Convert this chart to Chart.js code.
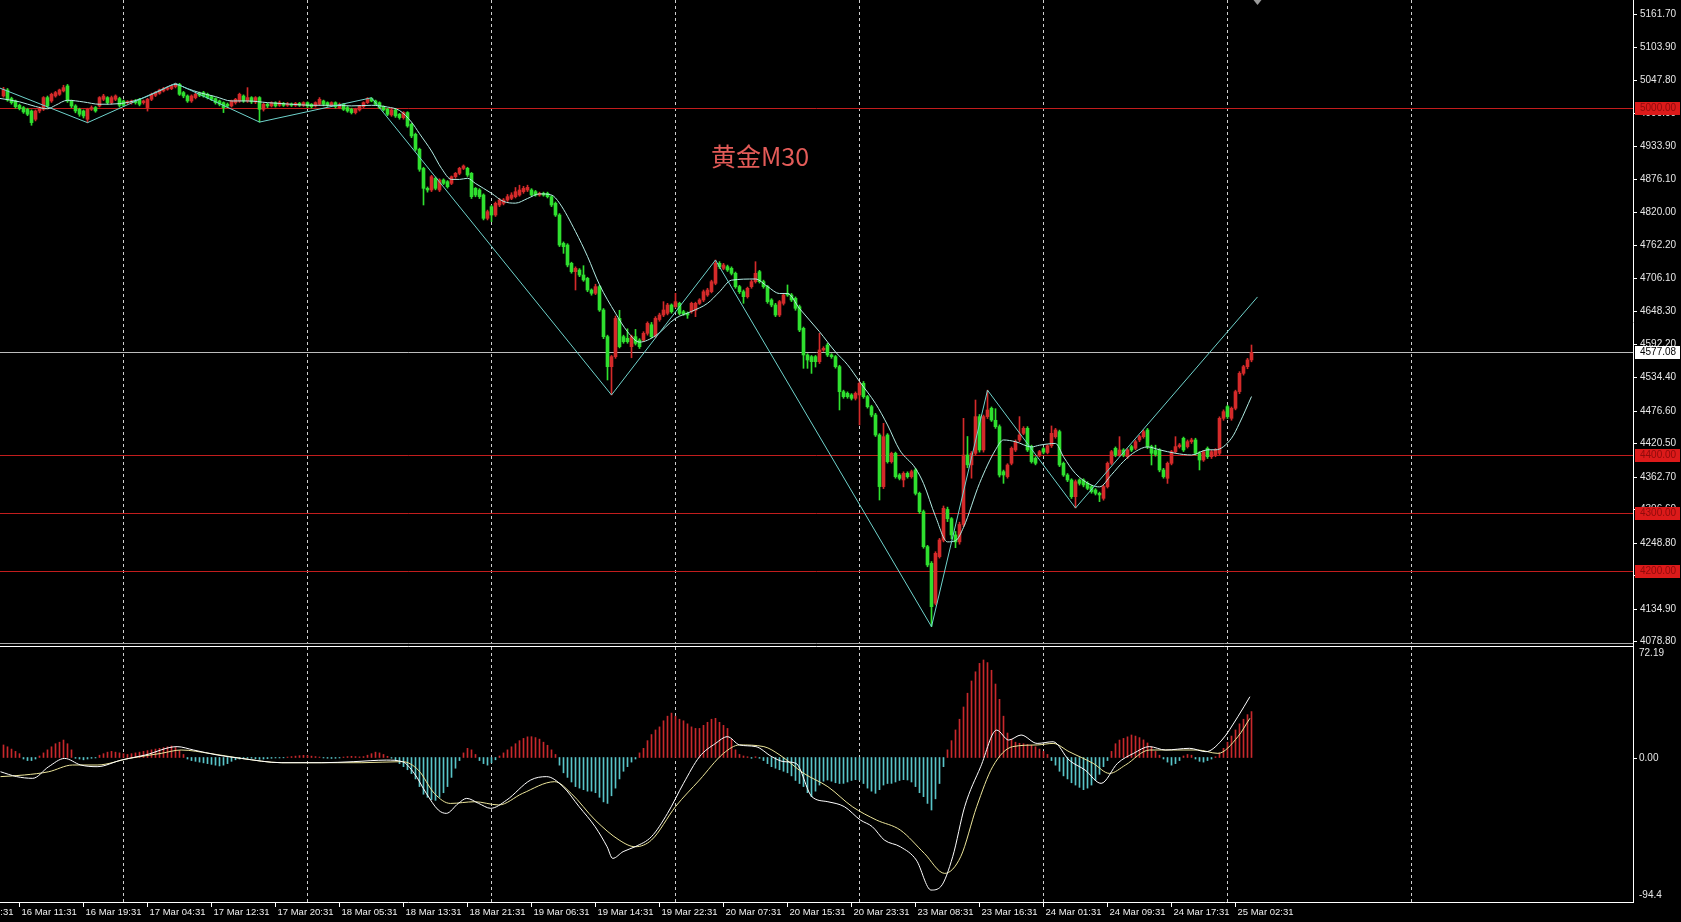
<!DOCTYPE html>
<html><head><meta charset="utf-8">
<script src="https://cdn.jsdelivr.net/npm/chart.js@4.4.1/dist/chart.umd.min.js"></script>
<style>
html,body{margin:0;padding:0;background:#000;overflow:hidden;width:1681px;height:922px;}
canvas{position:absolute;left:0;}
#pc{top:0}
#mc{top:645px}
</style></head><body>
<canvas id="pc" width="1681" height="645"></canvas>
<canvas id="mc" width="1681" height="277"></canvas>
<script>
// ---------- DATA (bar numbers: 0 = 16 Mar 11:31, M30 bars) ----------
const firstBar = -4;
const opens = [5020.1,5030.5,5015.6,5011.5,5004,5000,4997.1,4994.2,4979.8,4994.2,4997.1,5017.3,5011.5,5020.1,
5023,5028.8,5037.4,5011.5,5002.9,4997.1,4994.2,4979.8,4997.1,5000,
5002.9,5014.4,5017.3,5008.6,5014.4,5015.6,5011.5,5008.6,5008.6,5011.5,
5014.4,5008.6,5000,5014.4,5021.3,5024.8,5028.8,5031.7,5032.8,5036.3,
5040.3,5025.9,5020.1,5011.5,5017.3,5024.8,5025.9,5023,5019,5015.6,
5011.5,5008.6,5005.8,5002.9,5008.6,5011.5,5020.1,5011.5,5017.3,5009.8,
5017.3,4997.1,5005.8,5002.9,5008.6,5004,5007.5,5004,5006.3,5004,
5007.5,5004,5008.6,5005.8,5002.9,5005.8,5011.5,5008.6,5004,5008.6,
5000,5005.8,5000,4997.1,4991.4,4996,5001.7,5008.6,5015.6,5011.5,
5008.6,5001.7,4997.1,4987.4,4996,4988.5,4982.7,4991.4,4971.2,4953.9,
4928,4895,4860.6,4857.7,4877.9,4857.7,4875,4872.1,4869.2,4880.7,
4886.5,4895.1,4895.1,4886.5,4860.6,4857.7,4849.1,4808.8,4828.9,4814.5,
4831.8,4834.7,4840.4,4843.3,4846.2,4849.1,4854.8,4857.7,4857.7,4854.8,
4849.1,4851.9,4851.9,4846.2,4834.7,4814.5,4765.6,4762.7,4731.1,4716.7,
4719.5,4710.9,4705.2,4685,4679.3,4690.8,4650.5,4604.4,4552.6,4569.9,
4636,4604.4,4601.5,4587.1,4604.4,4598.6,4598.6,4610.2,4625,4606,
4634,4641.8,4644.7,4659.1,4656.2,4662,4647.6,4644.7,4647.6,4650,
4662,4667.8,4676.4,4682.1,4696.5,4731.1,4722.4,4725.3,4722.4,4713.8,
4690.8,4682.1,4673.5,4690.8,4699.4,4716.7,4699.4,4690.8,4667.8,4659.1,
4641.8,4662,4679.3,4676.4,4670.6,4656.2,4618.8,4572.8,4569.9,4569.9,
4561.2,4581.4,4590,4572.8,4569.9,4552.6,4509.4,4506.6,4503.7,4497.9,
4503.7,4523.8,4500.8,4483.5,4469.1,4434.6,4345.4,4434.6,4388.5,4402.9,
4365.5,4356.9,4368.4,4362.6,4374.1,4333.8,4302.2,4241.7,4213,4143.9,
4224.5,4253,4306,4290,4262,4250,4280,4400,4383,4403,
4466.3,4408.7,4466.3,4480.7,4460,4449,4371.3,4362.7,4385.7,4408.7,
4426,4437.5,4446.1,4414.5,4394.3,4400.1,4411,4404.4,4416,4431.7,
4440.4,4385.7,4365.5,4356.9,4328.1,4356.9,4356.9,4351.1,4345.4,4339.6,
4333.9,4325.2,4345.4,4385.7,4411.6,4400.1,4408.7,4397.2,4414.5,4411.6,
4426,4431.7,4443.3,4414.5,4408,4408.7,4374.2,4359.8,4385.7,4405.8,
4414.5,4428.9,4414.5,4423.1,4426,4403,4391.4,4411.6,4397.2,4400.1,
4403,4463.4,4483.6,4463.4,4480.7,4509.5,4541.1,4552.6,4564.2];
const highs = [5035,5033,5018,5013,5006,5002,4999,4996,4996,5001,5019,5020,5025,5028,
5032,5038.6,5040,5013,5005,4999,4996,4999,5003,5002,
5019,5023,5019,5020,5022,5018,5013,5012,5013,5014,
5016,5013,5016,5025,5028,5032,5035,5036,5039,5042,
5042,5028,5022,5022,5025,5027,5028,5025,5021,5017,
5013,5010,5008,5013,5016,5025,5022,5034.5,5019,5019,
5019,5008,5008,5010,5010,5011.5,5009,5009,5008,5009,
5009,5010,5010,5007,5010,5017.3,5013,5010,5010,5010,
5008,5007,5002,4999,4999,5004,5010,5017.3,5017.3,5013,
5010,5003,4999,4998,4998,4990,4993,4993,4973,4956,
4930,4897,4863,4883,4880,4877,4877,4874,4882,4888,
4897,4901,4897,4888,4862,4860,4851,4823,4831,4837,
4843,4843,4850,4853,4862,4866,4864,4866,4860,4857,
4854,4854,4854,4848,4837,4817,4768,4765,4733,4725,
4722,4727,4707,4687,4695,4693,4653,4607,4572,4640,
4650,4607,4618,4607,4617,4601,4613,4630,4629,4639,
4645,4664.9,4662,4661,4679.3,4664,4650,4647,4664,4664,
4670,4685,4688,4702,4736.8,4734,4731,4728,4725,4716,
4693,4685,4690,4702,4733.9,4719,4702,4693,4670,4662,
4667,4679,4693.7,4679,4673,4659,4621,4575,4572,4572,
4610.2,4587,4593,4575,4572,4555,4512,4509,4506,4509,
4527,4527,4503,4486,4472,4437,4454.7,4437,4405,4405,
4368,4371,4371,4374,4377,4336,4305,4244,4216,4233,
4256,4312,4310,4292,4268,4284,4463.4,4432,4406,4495,
4470,4469,4512,4483,4480,4452,4374,4385,4414,4426,
4466.3,4449,4449,4417,4397,4408,4413,4418,4450.2,4446,
4443,4388,4368,4359,4357,4359,4359,4354,4348,4342,
4336,4348,4388,4408,4414,4431.7,4411,4411,4417,4426,
4434,4443,4446,4417,4417,4411,4377,4388,4408,4431.7,
4420,4431,4426,4429,4429,4406,4408,4414,4408,4411,
4466,4478,4486,4483,4512,4544,4555,4567,4590];
const lows = [5018,5011,5006,4999,4996,4990,4986,4969.5,4977,4991,4995,5000,5009,5018,
5021,5027,5009,5000,4991,4985,4982,4974,4995,4992,
5001,5012,5006,5006,5012,5001,5002,5006,5006,5006,
5003,5006,4994,5012,5019,5023,5027,5030,5031,5034,
5021,5017,5009,5009,5015,5019,5018,5015,5012,5006,
5003,4991.4,5000,5001,5006,5009,5009,5009,5007,5007,
4975,4994,5000,5001,5001,5002,5002,5002,5002,5002,
5002,5002,5000,4999,5001,5004,5003,5002,5002,4999,
4998,4995,4992,4989,4989,4994,5000,5007,5010,5004,
4998,4994,4986,4985,4983,4980,4980,4966,4948,4925,
4890,4831.8,4854,4855,4858,4855,4867,4861,4867,4878,
4884,4893,4881,4843,4846,4843,4806,4806,4803,4812,
4829,4832,4838,4841,4844,4847,4852,4855,4847,4847,
4847,4847,4844,4829,4812,4760,4748.3,4725,4714,4685,
4708,4700,4682,4676,4677,4648,4601,4529.6,4503.7,4567,
4585,4593,4593,4568,4590,4584,4596,4607,4602,4603,
4631,4639,4642,4645,4654,4642,4641,4636.1,4645,4639,
4660,4665,4674,4680,4694,4722,4720,4717,4711,4688,
4679,4662,4671,4688,4697,4697,4688,4662,4656,4639,
4639,4659,4674,4665,4650,4613,4549.7,4549.7,4541,4552,
4558,4579,4570,4567,4550,4477.8,4498,4498,4495,4495,
4451.9,4498,4481,4466,4432,4322.3,4342,4386,4386,4360,
4357,4345,4360,4360,4331,4299,4239,4207,4103.6,4141,
4222,4250,4285,4255,4240,4246,4276,4378,4360,4400,
4405,4405,4463,4458,4446,4362,4351.1,4360,4383,4406,
4423,4435,4406,4386,4383,4397,4402,4402,4413,4429,
4380,4363,4354,4325,4308.5,4348,4345,4340,4334,4331,
4319.5,4322,4343,4383,4397,4397,4397,4394,4406,4409,
4423,4429,4411,4382.8,4398,4371,4360,4351,4383,4403,
4412,4406,4412,4420,4400,4374.2,4389,4394,4394,4397,
4400,4460,4463,4460,4478,4506,4538,4549,4561];
const closes = [5031.7,5013.2,5008.6,5001.7,4998.3,4992.5,4988.5,4974.1,4994.2,4998.3,5017.3,5002.9,5023,5025.9,
5030.5,5034.5,5011.5,5002.9,4994.2,4988.5,4985.6,4997.1,5000,4994.2,
5017.3,5020.1,5008.6,5017.3,5020.1,5004,5004,5009.8,5011.5,5008.6,
5005.8,5011.5,5014.4,5023,5025.9,5030.5,5032.8,5034.5,5037.4,5040,
5023,5020.1,5011.5,5020.1,5023,5021.3,5020.1,5017.3,5014.4,5008.6,
5005.8,5000,5002.9,5011.5,5014.4,5023,5011.5,5017.3,5009.8,5017.3,
4997.1,5005.8,5002.9,5008.6,5002.9,5008.6,5004,5006.3,5004,5007.5,
5004,5008.6,5002.9,5001.7,5008.6,5014.4,5005.8,5004,5008.6,5001.7,
5005.8,4997.1,4994.2,4991.4,4997.1,5002.9,5008.6,5015.6,5011.5,5005.8,
5000,4996,4988.5,4996,4985.6,4982.7,4991.4,4968.3,4951.1,4928,
4893.5,4860.6,4857.7,4880.7,4860.6,4875,4869.2,4863.5,4880.7,4886.5,
4895.1,4899.2,4883.6,4846.2,4849.1,4846.2,4808.8,4820.3,4814.5,4834.7,
4840.4,4840.4,4846.2,4849.1,4854.8,4857.7,4860.6,4862.3,4849.1,4849.1,
4851.9,4849.1,4846.2,4831.8,4814.5,4762.7,4759.8,4728.2,4716.7,4722.4,
4710.9,4702.3,4685,4679.3,4690.8,4650.5,4604.4,4552.6,4569.9,4636,
4587.1,4595.8,4595.8,4604.4,4592.9,4587.1,4610.2,4627.4,4604.4,4636.1,
4641.8,4650.5,4659.1,4647.6,4664.9,4644.7,4643.6,4641.8,4662,4662,
4667.8,4682.1,4685,4699.4,4731.1,4725.3,4728.2,4719.6,4713.8,4690.8,
4682.1,4673.5,4687.9,4699.4,4713.8,4699.4,4690.8,4664.9,4659.1,4641.8,
4664.9,4676.4,4676.4,4667.8,4653.4,4615.9,4572.8,4564.1,4561.2,4561.2,
4581.4,4584.3,4572.8,4569.9,4552.6,4509.4,4500.8,4500.8,4497.9,4506.6,
4523.8,4500.8,4483.5,4469.1,4434.6,4345.4,4431.7,4388.5,4402.9,4362.6,
4359.7,4368.4,4362.6,4371.3,4333.8,4302.2,4241.7,4210.1,4138.1,4230.2,
4253.2,4308,4290,4262,4250,4280,4400,4383,4403,4466.3,
4408.7,4466.3,4477.8,4460.5,4449,4365.5,4365.5,4382.8,4411.6,4423.1,
4434.6,4446.1,4408.7,4388.6,4385.7,4405.8,4405,4416,4437.5,4443.3,
4382.8,4365.5,4356.9,4328.1,4354,4351.1,4348.3,4342.5,4336.8,4333.9,
4331,4345.4,4385.7,4405.8,4400.1,4408.7,4400.1,4408.7,4408.7,4423.1,
4431.7,4440.4,4414.5,4403,4401,4374.2,4362.7,4385.7,4405.8,4414.5,
4417.4,4408.7,4423.1,4426,4403,4391.4,4405.8,4397.2,4405.8,4408.7,
4463.4,4474.9,4466.3,4480.7,4509.5,4541.1,4552.6,4564.2,4577.08];

// ZigZag pivots and moving average
const zigzagBars   = [-5, 17, 39, 60, 88, 148, 174, 228, 242, 264, 309.5];
const zigzagPrices = [5034, 4974, 5042, 4975, 5017, 4503.7, 4736.8, 4103.6, 4512, 4308.5, 4673];
const maBars = [-5,0,4,7,9,12,16,20,25,30,35,39,42,45,49,53,57,62,68,73,78,83,88,92,95,98,100,103,105.5,108,110,112,114,118,121,124,127,130,133,135,139,142,145,149,152,155,159,164,168,172,175,178,184,187,190,192,195,200,204,207,210,214,217,220,224,226,229,232,234,236,240,244,246,249,253,255,259,261,264,268,270,273,276,279,282,285,289,293,297,299,303,305,308];
const maValues = [5016,5010,5002,4998,5004,5012.7,5009.8,5005.8,5006.9,5014.4,5028.8,5040,5032.8,5025.9,5019,5011.5,5011.5,5008.6,5005.8,5004,5004,5003,5004,5001,4995,4975,4955,4925,4895,4876,4876,4878,4869,4852,4838,4835,4843,4851,4849,4835,4786,4743,4694,4645,4613,4595,4606,4636,4648,4662,4682,4702,4704,4691,4679,4679,4653,4613,4578,4556,4527,4489,4452,4409,4377,4351,4294,4250,4252,4275,4351,4409,4426,4423,4414,4417,4420,4397,4368,4348,4345,4366,4389,4406,4414,4409,4403,4400,4409,4409,4429,4455,4501];

const levelPrices = [5000, 4400, 4300, 4200];
const levelLabels = ['5000.00', '4400.00', '4300.00', '4200.00'];
const currentPrice = 4577.08;
const currentLabel = '4577.08';
const priceTicks = [5161.7,5103.9,5047.8,4990.0,4933.9,4876.1,4820.0,4762.2,4706.1,4648.3,4592.2,4534.4,4476.6,4420.5,4362.7,4306.6,4248.8,4192.7,4134.9,4078.8];
const priceMin = 4075.35, priceMax = 5182.4;
const shiftMarkerBar = 309.5;

// MACD (histogram per bar, DIF & DEA lines)
const macdHist = [8.2,7,5.5,4,2.5,
-1,-2,-2,-1,
1,3,5,7,9,10,11.4,9,5,
-0.5,-1,-1.5,-1,-0.5,-0.3,
1.5,2.5,3.5,4,3.5,3,2.5,2,2.5,3,3.5,4,4.5,5,5.5,6,6.5,7,7.5,6.5,4.5,2,
-1,-2,-2.5,-3,-3.5,-4,-4.5,-5,-5.5,-5,-4,-2.5,
-1.5,-1,-0.8,-0.5,-0.5,-0.8,-1.2,-1,-0.8,-0.5,-0.3,-0.3,-0.2,0.3,0.6,0.9,1.2,1.4,1.2,0.9,0.6,0.3,-0.3,-0.5,-0.6,-0.5,-0.3,0.3,0.6,0.8,0.6,0.4,0.6,1.5,2.5,3.5,3,2,0.8,-0.5,
-2,-4,-6,-8,-10.5,-14,-19,-24,-26,-27.5,-28,-26,-23,-19,-13,-7,-2,
3,6,5,2,
-2,-4,-5,-3.5,-1.5,
1,3,5,7,9,11,12.5,13.5,13.6,13,12,10,8,5,2,
-5,-10,-13,-16,-19,-20,-21,-22,-22,-23,-26,-29,-30,-25,-20,-14,-9,-6,-3,-1,
3,6,11,15,18,20,24,27,29,27,25,24,22,20,19,19,21,23,25,25.6,23,21,19,12,5,
2,1,0.5,-0.5,0.5,-0.5,
-2,-4,-6,-7,-8,-9,-10,-12,-15,-17,-19,-23,-25.6,-22,-18,-15.5,-14.7,-15.5,-16.5,-17,-16.9,-16,-15,-14.5,-14.7,-17,-20,-22,-23.4,-21,-18,-17,-16.9,-16,-15,-14.5,-14.7,-16,-19,-23,-25.6,-30,-34.3,-27,-17,-6,
5,11,18,25,33,42,50,56,61.5,63.7,62,57,48,38,27,16,12,10,9.3,9,8.5,8,7,5.5,4,2,
-2,-5,-9,-12,-14,-16.5,-18,-19.5,-21,-20,-18,-15,-11,-6,-2,
4,9,11.4,12.5,13.5,14.7,14,13,11.5,9.5,7,4,1.5,
-1,-3,-5,-4,-2,1,2,1.5,-1,-2.5,-3,-2,-1,0.5,
3,6,10,14,18,22,25,28,30];
const difBars = [-4.75,-0.7,3.3,7.3,11.3,15.3,19.4,25.4,31.4,39.4,43.5,49.5,55.5,65.6,75.6,83.6,91.7,95.7,98.7,101.7,104.7,106.7,109.7,111.8,114.8,117.8,121.8,127.8,131.8,135.9,139.9,143.9,146.9,148.3,150.9,153.9,158,162,166,170,174,177,180,184.1,188.1,191.1,194.1,198.1,202.1,206.2,210.2,213.2,216.2,220.2,224.2,227.9,230.3,233.3,236.3,240.3,244.3,247.3,250.4,254.4,258.4,262.4,266.4,270.4,274.5,278.5,282.5,286.5,292.5,296.6,300.6,304.6,307.6];
const difValues = [-9.3,-12.5,-13.6,-6.0,-0.6,-4.9,-6.0,-1.7,1.6,7.1,4.9,1.6,-0.6,-3.4,-3.4,-2.7,-1.7,-2.7,-10.4,-23.4,-34.3,-36.5,-30.0,-26.7,-30.0,-33.2,-27.8,-14.7,-12.5,-19.1,-32.1,-45.2,-58.3,-65.9,-61.5,-58.3,-51.7,-36.5,-16.9,0.5,9.2,13.6,8.2,7.1,0.5,-2.7,-3.8,-25.6,-28.9,-32.1,-40.8,-45.2,-53.9,-58.3,-67.0,-86.6,-84.4,-64.8,-32.1,-6.0,17.9,11.4,14.7,9.2,10.3,-1.7,-8.2,-16.9,-3.8,2.7,7.1,4.9,6.0,3.8,11.4,26.7,39.7];
const deaBars = [-4.75,1.3,7.3,13.3,19.4,27.4,35.4,40.4,47.5,55.5,65.6,75.6,85.6,95.7,99.7,103.7,107.7,113.8,119.8,125.8,133.8,137.9,143.9,149.9,153.9,158,164,170,176,180,186.1,190.1,196.1,202.1,208.2,214.2,220.2,226.2,231.3,235.3,239.3,243.3,248.3,254.4,258.4,262.4,268.4,272.5,276.5,282.5,288.5,294.5,299.6,304.6,307.6];
const deaValues = [-12.5,-11.4,-9.3,-4.9,-4.9,-0.6,2.7,4.9,2.7,-0.6,-3.4,-3.4,-3.4,-2.7,-8.2,-23.4,-30.0,-28.9,-31.0,-23.4,-15.8,-23.4,-40.8,-53.9,-58.3,-53.9,-32.1,-14.7,2.7,8.2,7.1,1.6,-10.4,-19.1,-32.1,-40.8,-47.4,-62.6,-75.7,-64.8,-32.1,-6.0,7.1,8.2,9.2,3.8,-3.8,-10.4,-4.9,4.9,4.9,4.9,2.7,13.6,25.6];
const macdMin = -94.4, macdMax = 72.19;
const macdTicks = [72.19, 0, -94.4];
const macdTickLabels = ['72.19', '0.00', '-94.4'];

const timeBars = [-16,0,16,32,48,64,80,96,112,128,144,160,176,192,208,224,240,256,272,288,304];
const timeLabels = ['16 Mar 03:31','16 Mar 11:31','16 Mar 19:31','17 Mar 04:31','17 Mar 12:31','17 Mar 20:31','18 Mar 05:31','18 Mar 13:31','18 Mar 21:31','19 Mar 06:31','19 Mar 14:31','19 Mar 22:31','20 Mar 07:31','20 Mar 15:31','20 Mar 23:31','23 Mar 08:31','23 Mar 16:31','24 Mar 01:31','24 Mar 09:31','24 Mar 17:31','25 Mar 02:31'];
const gridBars = [26, 72, 118, 164, 210, 256, 302, 348];
const chartTitle = '黄金M30';

// ---------- STYLE ----------
const UP = '#d42a2a', DOWN = '#2fe02f';
const AXIS_FONT = '10px "Liberation Sans", Arial, sans-serif';
const TIME_FONT = '9.5px "Liberation Sans", Arial, sans-serif';
const X_MIN = -4.875, X_MAX = 403.375;
const AXIS_W = 48;

const idx = opens.map((_, k) => firstBar + k);
const isUp = opens.map((o, k) => closes[k] >= o);

function drawGrid(chart, y0, y1) {
  const ctx = chart.ctx, xs = chart.scales.x;
  ctx.save();
  ctx.strokeStyle = '#cfcfcf';
  ctx.lineWidth = 1;
  ctx.setLineDash([3, 3]);
  gridBars.forEach(b => {
    const x = Math.round(xs.getPixelForValue(b) - 0.5) + 0.5;
    ctx.beginPath(); ctx.moveTo(x, y0); ctx.lineTo(x, y1); ctx.stroke();
  });
  ctx.restore();
}

const pricePlugin = {
  id: 'pricePlugin',
  beforeDatasetsDraw(chart) {
    const ctx = chart.ctx, ca = chart.chartArea, ys = chart.scales.y;
    drawGrid(chart, 0, ca.bottom);
    ctx.save();
    ctx.lineWidth = 1;
    ctx.strokeStyle = '#c21d1d';
    levelPrices.forEach(p => {
      const y = Math.round(ys.getPixelForValue(p)) + 0.5;
      ctx.beginPath(); ctx.moveTo(ca.left, y); ctx.lineTo(ca.right, y); ctx.stroke();
    });
    ctx.strokeStyle = '#bdbdbd';
    const yc = Math.round(ys.getPixelForValue(currentPrice)) + 0.5;
    ctx.beginPath(); ctx.moveTo(ca.left, yc); ctx.lineTo(ca.right, yc); ctx.stroke();
    ctx.restore();
  },
  afterDraw(chart) {
    const ctx = chart.ctx, ca = chart.chartArea, ys = chart.scales.y, xs = chart.scales.x;
    ctx.save();
    // title
    ctx.font = '25px "Noto Sans CJK SC", sans-serif';
    ctx.fillStyle = '#e35b58';
    ctx.textBaseline = 'middle';
    ctx.fillText(chartTitle, 711, 156);
    // chart-shift marker
    const sx = xs.getPixelForValue(shiftMarkerBar);
    ctx.fillStyle = '#9a9a9a';
    ctx.beginPath(); ctx.moveTo(sx - 4, 0); ctx.lineTo(sx + 4, 0); ctx.lineTo(sx, 5); ctx.closePath(); ctx.fill();
    // axis frame
    ctx.strokeStyle = '#ffffff';
    ctx.lineWidth = 1;
    ctx.beginPath(); ctx.moveTo(ca.right + 0.5, 0); ctx.lineTo(ca.right + 0.5, chart.height); ctx.stroke();
    ctx.strokeStyle = '#a8a8a8';
    ctx.beginPath(); ctx.moveTo(0, ca.bottom + 0.5); ctx.lineTo(ca.right, ca.bottom + 0.5); ctx.stroke();
    // tick labels
    ctx.font = AXIS_FONT;
    ctx.fillStyle = '#e6e6e6';
    ctx.textBaseline = 'middle';
    ctx.strokeStyle = '#ffffff';
    priceTicks.forEach(p => {
      const y = Math.round(ys.getPixelForValue(p)) + 0.5;
      ctx.beginPath(); ctx.moveTo(ca.right + 1, y); ctx.lineTo(ca.right + 4, y); ctx.stroke();
      ctx.fillText(p.toFixed(2), ca.right + 7, y);
    });
    // level boxes
    levelPrices.forEach((p, k) => {
      const y = Math.round(ys.getPixelForValue(p));
      ctx.fillStyle = '#dc1a1a';
      ctx.fillRect(ca.right + 2, y - 6, 45, 13);
      ctx.fillStyle = '#8e0b0b';
      ctx.fillText(levelLabels[k], ca.right + 7, y + 0.5);
    });
    const yc = Math.round(ys.getPixelForValue(currentPrice));
    ctx.fillStyle = '#ffffff';
    ctx.fillRect(ca.right + 2, yc - 6, 45, 13);
    ctx.fillStyle = '#000000';
    ctx.fillText(currentLabel, ca.right + 7, yc + 0.5);
    ctx.restore();
  }
};

const macdPlugin = {
  id: 'macdPlugin',
  beforeDatasetsDraw(chart) {
    const ca = chart.chartArea;
    drawGrid(chart, ca.top, ca.bottom);
  },
  afterDraw(chart) {
    const ctx = chart.ctx, ca = chart.chartArea, ys = chart.scales.y, xs = chart.scales.x;
    ctx.save();
    ctx.strokeStyle = '#ffffff';
    ctx.lineWidth = 1;
    ctx.beginPath(); ctx.moveTo(ca.right + 0.5, 0); ctx.lineTo(ca.right + 0.5, ca.bottom + 1); ctx.stroke();
    ctx.beginPath(); ctx.moveTo(0, ca.top - 0.5); ctx.lineTo(ca.right, ca.top - 0.5); ctx.stroke();
    ctx.beginPath(); ctx.moveTo(0, ca.bottom + 0.5); ctx.lineTo(ca.right + 1, ca.bottom + 0.5); ctx.stroke();
    // y labels
    ctx.font = AXIS_FONT;
    ctx.fillStyle = '#e6e6e6';
    ctx.textBaseline = 'middle';
    macdTicks.forEach((v, k) => {
      let y = ys.getPixelForValue(v);
      if (k === 0) y += 6;
      if (k === 2) y -= 7;
      if (v === 0) {
        const yy = Math.round(y) + 0.5;
        ctx.beginPath(); ctx.moveTo(ca.right + 1, yy); ctx.lineTo(ca.right + 4, yy); ctx.stroke();
      }
      ctx.fillText(macdTickLabels[k], ca.right + 6, Math.round(y) + 0.5);
    });
    // time labels
    ctx.font = TIME_FONT;
    ctx.fillStyle = '#f0f0f0';
    timeBars.forEach((b, k) => {
      const x = Math.round(xs.getPixelForValue(b) - 0.5) + 0.5;
      ctx.beginPath(); ctx.moveTo(x, ca.bottom + 1); ctx.lineTo(x, ca.bottom + 5); ctx.stroke();
      ctx.fillText(timeLabels[k], x + 2, ca.bottom + 10);
    });
    ctx.restore();
  }
};

const xScale = { type: 'linear', min: X_MIN, max: X_MAX, offset: false, display: false, grid: { display: false } };

new Chart(document.getElementById('pc'), {
  type: 'bar',
  data: {
    datasets: [
      { type: 'line', label: 'ZigZag', data: zigzagBars.map((b, k) => ({ x: b, y: zigzagPrices[k] })),
        borderColor: '#6fd3cc', borderWidth: 1, pointRadius: 0, tension: 0, order: 0 },
      { type: 'line', label: 'MA', data: maBars.map((b, k) => ({ x: b, y: maValues[k] })),
        borderColor: '#b2ece4', borderWidth: 1, pointRadius: 0, cubicInterpolationMode: 'monotone', order: 0 },
      { type: 'bar', label: 'body', data: idx.map((b, k) => ({ x: b, y: [opens[k], closes[k]] })),
        backgroundColor: isUp.map(u => u ? UP : DOWN), borderWidth: 0, barThickness: 3, grouped: false,
        minBarLength: 1, order: 1 },
      { type: 'bar', label: 'wick', data: idx.map((b, k) => ({ x: b, y: [lows[k], highs[k]] })),
        backgroundColor: isUp.map(u => u ? UP : DOWN), borderWidth: 0, barThickness: 1, grouped: false, order: 2 }
    ]
  },
  options: {
    responsive: false, animation: false, devicePixelRatio: 1, events: [],
    layout: { padding: { left: 0, right: AXIS_W, top: 2, bottom: 2 } },
    plugins: { legend: { display: false }, tooltip: { enabled: false } },
    scales: {
      x: xScale,
      y: { type: 'linear', min: priceMin, max: priceMax, beginAtZero: false, display: false }
    }
  },
  plugins: [pricePlugin]
});

new Chart(document.getElementById('mc'), {
  type: 'bar',
  data: {
    datasets: [
      { type: 'line', label: 'DIF', data: difBars.map((b, k) => ({ x: b, y: difValues[k] })),
        borderColor: '#ffffff', borderWidth: 1, pointRadius: 0, cubicInterpolationMode: 'monotone', order: 0 },
      { type: 'line', label: 'DEA', data: deaBars.map((b, k) => ({ x: b, y: deaValues[k] })),
        borderColor: '#ece59a', borderWidth: 1, pointRadius: 0, cubicInterpolationMode: 'monotone', order: 0 },
      { type: 'bar', label: 'MACD', data: idx.map((b, k) => ({ x: b, y: macdHist[k] })),
        backgroundColor: macdHist.map(v => v >= 0 ? '#c8282c' : '#58c4c8'), borderWidth: 0,
        barThickness: 1, grouped: false, order: 1 }
    ]
  },
  options: {
    responsive: false, animation: false, devicePixelRatio: 1, events: [],
    layout: { padding: { left: 0, right: AXIS_W, top: 2, bottom: 20 } },
    plugins: { legend: { display: false }, tooltip: { enabled: false } },
    scales: {
      x: xScale,
      y: { type: 'linear', min: macdMin, max: macdMax, beginAtZero: false, display: false }
    }
  },
  plugins: [macdPlugin]
});
</script>
</body></html>
